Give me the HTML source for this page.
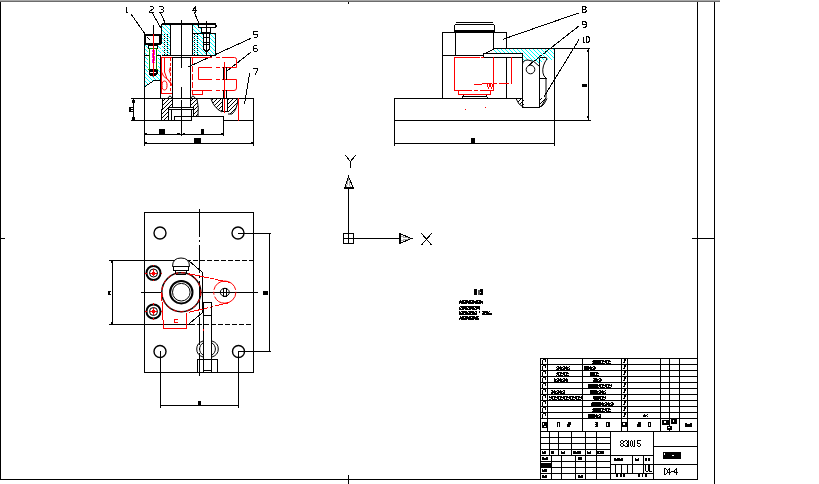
<!DOCTYPE html><html><head><meta charset="utf-8"><style>
html,body{margin:0;padding:0;background:#fff;overflow:hidden;}
svg{display:block;}
</style></head><body>
<svg width="819" height="484" viewBox="0 0 819 484" shape-rendering="crispEdges">
<defs>
<pattern id="hc" patternUnits="userSpaceOnUse" width="4" height="4">
<rect x="0" y="0" width="1" height="1" fill="#00ffff"/><rect x="1" y="1" width="1" height="1" fill="#00ffff"/><rect x="2" y="2" width="1" height="1" fill="#00ffff"/><rect x="3" y="3" width="1" height="1" fill="#00ffff"/></pattern>
<pattern id="hk" patternUnits="userSpaceOnUse" width="4" height="4">
<rect x="3" y="0" width="1" height="1" fill="#000"/><rect x="2" y="1" width="1" height="1" fill="#000"/><rect x="1" y="2" width="1" height="1" fill="#000"/><rect x="0" y="3" width="1" height="1" fill="#000"/></pattern>
<pattern id="tx" patternUnits="userSpaceOnUse" width="6" height="4">
<rect x="0" y="0" width="6" height="4" fill="#000"/><rect x="1" y="1" width="1" height="2" fill="#fff"/><rect x="4" y="0" width="1" height="1" fill="#fff"/><rect x="3" y="2" width="2" height="1" fill="#fff"/><rect x="5" y="3" width="1" height="1" fill="#fff"/></pattern>
<pattern id="tx3" patternUnits="userSpaceOnUse" width="7" height="4">
<rect x="0" y="0" width="7" height="4" fill="#000"/><rect x="2" y="1" width="1" height="1" fill="#fff"/><rect x="5" y="3" width="1" height="1" fill="#fff"/><rect x="6" y="0" width="1" height="1" fill="#fff"/></pattern>
</defs>
<rect x="0" y="0" width="819" height="484" fill="#fff"/>

<rect x="0" y="0" width="720" height="1" fill="#a8a8a8" />
<rect x="0" y="1" width="720" height="1" fill="#6c6c6c" />
<line x1="0.5" y1="2" x2="0.5" y2="480" stroke="#000" stroke-width="1" />
<line x1="0" y1="479.5" x2="698" y2="479.5" stroke="#000" stroke-width="1" />
<line x1="697.5" y1="2" x2="697.5" y2="480" stroke="#000" stroke-width="1" />
<line x1="714.5" y1="2" x2="714.5" y2="484" stroke="#000" stroke-width="1" />
<line x1="0" y1="238.5" x2="5" y2="238.5" stroke="#000" stroke-width="1" />
<line x1="692" y1="238.5" x2="715" y2="238.5" stroke="#000" stroke-width="1" />
<rect x="348" y="2" width="1" height="2" fill="#000" />
<line x1="348.5" y1="475" x2="348.5" y2="484" stroke="#000" stroke-width="1" />
<path d="M1,0 L1,7 L2.5,7" transform="translate(125.0,6.5) scale(1,0.86)" stroke="#000" stroke-width="1" fill="none" vector-effect="non-scaling-stroke" stroke-linejoin="miter"/>
<path d="M0,1 L1,0 L3,0 L4,1 L4,2.5 L0,5.5 L0,7 L4,7" transform="translate(149.5,6.5) scale(1,0.86)" stroke="#000" stroke-width="1" fill="none" vector-effect="non-scaling-stroke" stroke-linejoin="miter"/>
<path d="M0,0.5 L1,0 L3,0 L4,1 L4,2.5 L3,3.5 L1.5,3.5 M3,3.5 L4,4.5 L4,6 L3,7 L1,7 L0,6.5" transform="translate(159.5,6.5) scale(1,0.86)" stroke="#000" stroke-width="1" fill="none" vector-effect="non-scaling-stroke" stroke-linejoin="miter"/>
<path d="M3,7 L3,0 L0,5 L4,5" transform="translate(192.5,6.5) scale(1,0.86)" stroke="#000" stroke-width="1" fill="none" vector-effect="non-scaling-stroke" stroke-linejoin="miter"/>
<path d="M4,0 L0.5,0 L0,3 L3,3 L4,4 L4,6 L3,7 L0,7" transform="translate(253.5,31.5) scale(1,0.86)" stroke="#000" stroke-width="1" fill="none" vector-effect="non-scaling-stroke" stroke-linejoin="miter"/>
<path d="M3.5,0 L1,0 L0,1 L0,6 L1,7 L3,7 L4,6 L4,4.5 L3,3.5 L0,3.5" transform="translate(253.5,45.5) scale(1,0.86)" stroke="#000" stroke-width="1" fill="none" vector-effect="non-scaling-stroke" stroke-linejoin="miter"/>
<path d="M0,1 L0,0 L4,0 L4,1 L2,7" transform="translate(253.5,68.5) scale(1,0.86)" stroke="#000" stroke-width="1" fill="none" vector-effect="non-scaling-stroke" stroke-linejoin="miter"/>
<line x1="131" y1="14" x2="145" y2="34" stroke="#000" stroke-width="1" />
<line x1="152" y1="12.5" x2="162" y2="30" stroke="#000" stroke-width="1" />
<line x1="160.5" y1="12.5" x2="165.5" y2="24" stroke="#000" stroke-width="1" />
<line x1="194" y1="12" x2="198.6" y2="22.5" stroke="#000" stroke-width="1" />
<line x1="250.8" y1="38.4" x2="188" y2="67" stroke="#000" stroke-width="1" />
<line x1="250.8" y1="52.3" x2="226.6" y2="71.2" stroke="#000" stroke-width="1" />
<line x1="249.7" y1="73.3" x2="244.5" y2="103.6" stroke="#000" stroke-width="1" />
<g fill="url(#hc)" stroke="none">
<rect x="162" y="25" width="8" height="30"/>
<path d="M193,25 L198,25 L198,28 L201,28 L201,33 L215,33 L215,55 L193,55 Z"/>
<path d="M145,45 L161,45 L161,80 L154,80 L146,86 L145,86 Z"/>
</g>
<rect x="148" y="45" width="10" height="31" fill="#fff" />
<path d="M203.5,31 L209.5,31 L209.5,49 L206.5,52 L203.5,49 Z" fill="#fff"/>
<line x1="164.5" y1="34" x2="164.5" y2="55" stroke="#000" stroke-width="1" stroke-dasharray="1,1"/>
<line x1="167.5" y1="34" x2="167.5" y2="55" stroke="#000" stroke-width="1" stroke-dasharray="1,1"/>
<line x1="194.5" y1="34" x2="194.5" y2="55" stroke="#000" stroke-width="1" stroke-dasharray="1,1"/>
<line x1="197.5" y1="34" x2="197.5" y2="55" stroke="#000" stroke-width="1" stroke-dasharray="1,1"/>
<line x1="162" y1="24" x2="216" y2="24" stroke="#000" stroke-width="2" />
<path d="M198.5,24.5 L215,24.5 L216,25.5 L216,26.5 L215,27.5 L198.5,27.5 Z" stroke="#000" stroke-width="1" fill="none" />
<rect x="201.5" y="27.5" width="9" height="5" stroke="#000" stroke-width="1" fill="none" />
<path d="M203.5,32 L203.5,49 L206.5,52 L209.5,49 L209.5,32" stroke="#000" stroke-width="1" fill="none" />
<line x1="204" y1="37.5" x2="209" y2="37.5" stroke="#000" stroke-width="1" />
<line x1="204" y1="42.5" x2="209" y2="42.5" stroke="#000" stroke-width="1" />
<line x1="204" y1="44.5" x2="209" y2="44.5" stroke="#000" stroke-width="1" />
<line x1="206.5" y1="21" x2="206.5" y2="55" stroke="#000" stroke-width="1" />
<line x1="170.5" y1="24" x2="170.5" y2="56" stroke="#000" stroke-width="1" />
<line x1="192.5" y1="24" x2="192.5" y2="56" stroke="#000" stroke-width="1" />
<line x1="161.5" y1="24" x2="161.5" y2="44" stroke="#000" stroke-width="1" />
<path d="M193,33.5 L215.5,33.5 L215.5,55.5" stroke="#000" stroke-width="1" fill="none" />
<line x1="162" y1="55.5" x2="216" y2="55.5" stroke="#000" stroke-width="1" />
<line x1="144" y1="55.5" x2="161" y2="55.5" stroke="#000" stroke-width="1" />
<line x1="170" y1="57.5" x2="193" y2="57.5" stroke="#000" stroke-width="1" />
<line x1="181.5" y1="20" x2="181.5" y2="68" stroke="#000" stroke-width="1" />
<line x1="181.5" y1="87" x2="181.5" y2="99" stroke="#000" stroke-width="1" />
<line x1="181.5" y1="100" x2="181.5" y2="136" stroke="#000" stroke-width="1" />
<rect x="145" y="35" width="15" height="9" stroke="#000" stroke-width="2" fill="#fff"/>
<line x1="147" y1="37" x2="150" y2="40" stroke="#000" stroke-width="1" />
<line x1="153.5" y1="25" x2="153.5" y2="34" stroke="#000" stroke-width="1" />
<rect x="148.5" y="45.5" width="9" height="3" stroke="#000" stroke-width="1" fill="none" />
<rect x="149.5" y="48.5" width="7" height="21" stroke="#008000" stroke-width="1" fill="#fff"/>
<rect x="152" y="50" width="3" height="13" fill="#ff00ff" />
<rect x="152" y="52" width="1" height="1" fill="#fff" />
<rect x="154" y="55" width="1" height="1" fill="#fff" />
<rect x="152" y="58" width="1" height="1" fill="#fff" />
<rect x="154" y="61" width="1" height="1" fill="#fff" />
<path d="M149,69 L158,69 L158,73 L156,76 L150,76 L149,73 Z" fill="#000"/>
<rect x="150" y="72" width="6" height="1" fill="#fff" />
<rect x="148" y="69" width="2" height="1" fill="#008000" />
<rect x="156" y="69" width="2" height="1" fill="#008000" />
<line x1="153.5" y1="34" x2="153.5" y2="77" stroke="#ff0000" stroke-width="1" />
<line x1="144.5" y1="34" x2="144.5" y2="146" stroke="#000" stroke-width="1" />
<line x1="160.5" y1="56" x2="160.5" y2="99" stroke="#000" stroke-width="1" />
<path d="M145,86.5 L154,80.5 L161,80.5" stroke="#000" stroke-width="1" fill="none" />
<line x1="161" y1="57.5" x2="172" y2="57.5" stroke="#ff0000" stroke-width="1" />
<path d="M191,57.5 L234.5,57.5 Q236.5,57.5 236.5,59.5 L236.5,67.5 L198.5,67.5 L198.5,79.5 L236.5,79.5 L236.5,88 Q236.5,90.5 234,90.5 L191.5,90.5" stroke="#ff0000" stroke-width="1" fill="none" shape-rendering="geometricPrecision" />
<line x1="212" y1="57.5" x2="216" y2="57.5" stroke="#fff" stroke-width="1" />
<line x1="212" y1="67.5" x2="216" y2="67.5" stroke="#fff" stroke-width="1" />
<line x1="212" y1="79.5" x2="216" y2="79.5" stroke="#fff" stroke-width="1" />
<line x1="212" y1="90.5" x2="216" y2="90.5" stroke="#fff" stroke-width="1" />
<line x1="220" y1="57.5" x2="222" y2="57.5" stroke="#fff" stroke-width="1" />
<line x1="220" y1="67.5" x2="222" y2="67.5" stroke="#fff" stroke-width="1" />
<line x1="220" y1="79.5" x2="222" y2="79.5" stroke="#fff" stroke-width="1" />
<line x1="220" y1="90.5" x2="222" y2="90.5" stroke="#fff" stroke-width="1" />
<line x1="161.5" y1="57" x2="161.5" y2="94" stroke="#ff0000" stroke-width="1" />
<line x1="161" y1="93.5" x2="172" y2="93.5" stroke="#ff0000" stroke-width="1" />
<line x1="192.5" y1="58" x2="192.5" y2="93" stroke="#ff0000" stroke-width="1" stroke-dasharray="6,2"/>
<line x1="170.5" y1="58" x2="170.5" y2="93" stroke="#ff0000" stroke-width="1" stroke-dasharray="3,2"/>
<rect x="192.0" y="90.5" width="10" height="4" stroke="#ff0000" stroke-width="1" fill="none" />
<path d="M164.5,58 L164.5,72 Q166,79 171,84" stroke="#ff0000" stroke-width="1" fill="none" shape-rendering="geometricPrecision" />
<path d="M161.5,72 Q163,77 167,79 Q171,81 172,86" stroke="#ff0000" stroke-width="1" fill="none" shape-rendering="geometricPrecision" />
<ellipse cx="164.5" cy="85.5" rx="2.5" ry="4.5" stroke="#ff0000" stroke-width="1" fill="none" shape-rendering="geometricPrecision"/>
<path d="M170.5,67 Q168,70.5 170.5,74" stroke="#ff0000" stroke-width="1" fill="none" shape-rendering="geometricPrecision" />
<line x1="172.5" y1="57" x2="172.5" y2="108" stroke="#000" stroke-width="1" />
<line x1="190.5" y1="57" x2="190.5" y2="108" stroke="#000" stroke-width="1" />
<line x1="223.5" y1="67" x2="223.5" y2="80" stroke="#000" stroke-width="1" />
<line x1="226.5" y1="67" x2="226.5" y2="80" stroke="#000" stroke-width="1" />
<line x1="223.5" y1="90" x2="223.5" y2="98" stroke="#000" stroke-width="1" />
<line x1="226.5" y1="90" x2="226.5" y2="98" stroke="#000" stroke-width="1" />
<line x1="222.5" y1="98" x2="222.5" y2="112" stroke="#000" stroke-width="1" />
<line x1="227.5" y1="98" x2="227.5" y2="112" stroke="#000" stroke-width="1" />
<line x1="222" y1="111.5" x2="228" y2="111.5" stroke="#000" stroke-width="1" />
<line x1="224.5" y1="62" x2="224.5" y2="113" stroke="#ff0000" stroke-width="1" />
<line x1="131" y1="98.5" x2="254" y2="98.5" stroke="#000" stroke-width="1" />
<line x1="131" y1="120.5" x2="169" y2="120.5" stroke="#000" stroke-width="1" />
<line x1="168" y1="120.5" x2="192" y2="120.5" stroke="#000" stroke-width="1" />
<line x1="175" y1="116.5" x2="224" y2="116.5" stroke="#000" stroke-width="1" />
<line x1="224" y1="120.5" x2="254" y2="120.5" stroke="#000" stroke-width="1" />
<line x1="253.5" y1="98" x2="253.5" y2="146" stroke="#000" stroke-width="1" />
<line x1="223.5" y1="116" x2="223.5" y2="136" stroke="#000" stroke-width="1" />
<path d="M163,99 L172,99 L172,107 L168.5,107 L168.5,120 L161,120 Z" fill="url(#hk)"/>
<path d="M191,99 L197,99 Q199,107 198,116 L193,116 L193,107 L191,107 Z" fill="url(#hk)"/>
<path d="M211,99 L238,99 Q237,110 232,114 L228,114 L228,99 L222,99 L222,112 Q214,108 211,99 Z" fill="url(#hk)"/>
<path d="M163,99 L161,120" stroke="#000" stroke-width="1" fill="none" />
<path d="M197,99 Q199,107 198,116" stroke="#000" stroke-width="1" fill="none" shape-rendering="geometricPrecision" />
<path d="M211,99 Q214,108 222,112" stroke="#000" stroke-width="1" fill="none" shape-rendering="geometricPrecision" />
<path d="M238,99 Q237,110 232,114 L228,114" stroke="#000" stroke-width="1" fill="none" shape-rendering="geometricPrecision" />
<path d="M168.5,120 L168.5,107.5 L193.5,107.5 L193.5,116" stroke="#000" stroke-width="1" fill="none" />
<line x1="169" y1="109.5" x2="193" y2="109.5" stroke="#000" stroke-width="1" />
<line x1="171.5" y1="109" x2="171.5" y2="120" stroke="#000" stroke-width="1" />
<line x1="191.5" y1="109" x2="191.5" y2="120" stroke="#000" stroke-width="1" />
<path d="M174.5,120 L174.5,117 L176,116.5 L191,116.5" stroke="#000" stroke-width="1" fill="none" />
<line x1="238.5" y1="98" x2="238.5" y2="121" stroke="#ff0000" stroke-width="1" />
<path d="M168,98 Q170,94 172,98" stroke="#000" stroke-width="1" fill="none" shape-rendering="geometricPrecision" />
<path d="M191,98 Q193,94 195,98" stroke="#000" stroke-width="1" fill="none" shape-rendering="geometricPrecision" />
<line x1="133.5" y1="98" x2="133.5" y2="121" stroke="#000" stroke-width="1" />
<rect x="132" y="100" width="3" height="3" fill="#000" />
<rect x="132" y="117" width="3" height="3" fill="#000" />
<rect x="129" y="107" width="2" height="5" fill="#000" />
<rect x="129" y="107" width="4" height="1" fill="#000" />
<rect x="129" y="111" width="4" height="1" fill="#000" />
<rect x="131" y="109" width="2" height="1" fill="#000" />
<line x1="144" y1="134.5" x2="224" y2="134.5" stroke="#000" stroke-width="1" />
<rect x="159" y="129" width="6" height="5" fill="#000" />
<rect x="201" y="129" width="3" height="5" fill="#000" />
<rect x="145" y="133" width="2" height="1" fill="#000" />
<rect x="177" y="133" width="3" height="1" fill="#000" />
<rect x="183" y="133" width="2" height="1" fill="#000" />
<rect x="221" y="133" width="2" height="1" fill="#000" />
<line x1="144" y1="143.5" x2="254" y2="143.5" stroke="#000" stroke-width="1" />
<rect x="194" y="138" width="7" height="5" fill="#000" />
<rect x="145" y="142" width="2" height="1" fill="#000" />
<rect x="251" y="142" width="2" height="1" fill="#000" />
<path d="M1,0 L3,0 L4,1 L4,2 L3,3 L1,3 L0,2 L0,1 Z M1,3 L0,4 L0,6 L1,7 L3,7 L4,6 L4,4 L3,3" transform="translate(582.0,6.5) scale(1,0.86)" stroke="#000" stroke-width="1" fill="none" vector-effect="non-scaling-stroke" stroke-linejoin="miter"/>
<path d="M4,3.5 L1,3.5 L0,2.5 L0,1 L1,0 L3,0 L4,1 L4,6 L3,7 L0.5,7" transform="translate(582.0,21.5) scale(1,0.86)" stroke="#000" stroke-width="1" fill="none" vector-effect="non-scaling-stroke" stroke-linejoin="miter"/>
<path d="M1,0 L1,7 L2.5,7" transform="translate(582.5,36.5) scale(1,0.86)" stroke="#000" stroke-width="1" fill="none" vector-effect="non-scaling-stroke" stroke-linejoin="miter"/>
<path d="M1,0 L2,0 L3,1 L3,6 L2,7 L1,7 L0,6 L0,1 Z" transform="translate(586.0,36.5) scale(1,0.86)" stroke="#000" stroke-width="1" fill="none" vector-effect="non-scaling-stroke" stroke-linejoin="miter"/>
<line x1="578.9" y1="12.9" x2="502.6" y2="39.4" stroke="#000" stroke-width="1" />
<line x1="578.9" y1="26" x2="527.8" y2="66" stroke="#000" stroke-width="1" />
<line x1="578.9" y1="39.7" x2="543.7" y2="97.2" stroke="#000" stroke-width="1" />
<line x1="394" y1="98.5" x2="523" y2="98.5" stroke="#000" stroke-width="1" />
<line x1="394.5" y1="98" x2="394.5" y2="121" stroke="#000" stroke-width="1" />
<line x1="394" y1="120.5" x2="591" y2="120.5" stroke="#000" stroke-width="1" />
<line x1="394.5" y1="120" x2="394.5" y2="146" stroke="#000" stroke-width="1" />
<line x1="554.5" y1="120" x2="554.5" y2="146" stroke="#000" stroke-width="1" />
<line x1="394" y1="143.5" x2="555" y2="143.5" stroke="#000" stroke-width="1" />
<rect x="471" y="138" width="4" height="5" fill="#000" />
<line x1="555" y1="48.5" x2="590" y2="48.5" stroke="#000" stroke-width="1" />
<line x1="588.5" y1="48" x2="588.5" y2="120" stroke="#000" stroke-width="1" />
<rect x="587" y="50" width="2" height="2" fill="#000" />
<rect x="587" y="116" width="2" height="2" fill="#000" />
<rect x="582" y="84" width="5" height="3" fill="#000" />
<path d="M455.5,22.5 L493,22.5" stroke="#000" stroke-width="1" fill="none" />
<path d="M454.5,31 L454.5,25.5 L455.5,24.5 L493.5,24.5 L494.5,25.5 L494.5,31" stroke="#000" stroke-width="1" fill="none" />
<line x1="454" y1="31" x2="495" y2="31" stroke="#000" stroke-width="2" />
<path d="M442.5,98 L442.5,32.5 L506.5,32.5 L506.5,48.5" stroke="#000" stroke-width="1" fill="none" />
<line x1="455.5" y1="32" x2="455.5" y2="56" stroke="#000" stroke-width="1" />
<line x1="493.5" y1="32" x2="493.5" y2="49" stroke="#000" stroke-width="1" />
<line x1="442" y1="55.5" x2="484" y2="55.5" stroke="#000" stroke-width="1" />
<line x1="506.5" y1="57" x2="506.5" y2="98" stroke="#000" stroke-width="1" />
<path d="M494,49 L554,49 L554,60 Q546,58 541,62 L539,66 Q534,60 528,60 Q523,60 522.5,64 L522.5,53 L494,53 Z" fill="url(#hc)"/>
<path d="M483.5,57.5 L522.5,57.5 L522.5,107.5 L539.5,107.5 L539.5,57.5" stroke="#000" stroke-width="1" fill="none" />
<path d="M483.5,57.5 L483.5,54 L490,51 L494.5,48.5 L554.5,48.5" stroke="#000" stroke-width="1" fill="none" />
<line x1="484" y1="53.5" x2="523" y2="53.5" stroke="#000" stroke-width="1" />
<line x1="522.5" y1="53" x2="522.5" y2="58" stroke="#000" stroke-width="1" />
<line x1="554.5" y1="48" x2="554.5" y2="120" stroke="#000" stroke-width="1" />
<circle cx="530.5" cy="69.5" r="4.3" stroke="#000" stroke-width="1" fill="none" shape-rendering="geometricPrecision" />
<path d="M522.5,64 Q523,60 528,60 Q534,60 539,66" stroke="#000" stroke-width="1" fill="none" shape-rendering="geometricPrecision" />
<path d="M539.5,57.5 L546,57.5 Q548,58 545,62 Q541,70 544,76 L546,78 L546,98 L541,107" stroke="#000" stroke-width="1" fill="none" shape-rendering="geometricPrecision" />
<line x1="540" y1="78.5" x2="547" y2="78.5" stroke="#000" stroke-width="1" />
<path d="M516,98 Q518,105 524,108 L524,98 Z" fill="url(#hk)"/>
<path d="M539,98 L539,108 Q545,105 547,98 Z" fill="url(#hk)"/>
<path d="M516,98.5 Q518,105 524,107.5" stroke="#000" stroke-width="1" fill="none" shape-rendering="geometricPrecision" />
<path d="M547,98.5 Q545,105 539,107.5" stroke="#000" stroke-width="1" fill="none" shape-rendering="geometricPrecision" />
<path d="M454.5,90.5 L454.5,57.5 L479.5,57.5" stroke="#ff0000" stroke-width="1" fill="none" />
<line x1="481" y1="57.5" x2="484" y2="57.5" stroke="#ff0000" stroke-width="1" />
<line x1="493.5" y1="57" x2="493.5" y2="91" stroke="#ff0000" stroke-width="1" />
<line x1="454" y1="90.5" x2="494" y2="90.5" stroke="#ff0000" stroke-width="1" stroke-dasharray="18,2,4,2"/>
<path d="M458.5,90.5 L458.5,94.5 L490.5,94.5 L490.5,90.5" stroke="#ff0000" stroke-width="1" fill="none" />
<line x1="474" y1="84.5" x2="482" y2="84.5" stroke="#ff0000" stroke-width="1" />
<line x1="482" y1="83.5" x2="512" y2="83.5" stroke="#ff0000" stroke-width="1" stroke-dasharray="10,2,3,2"/>
<line x1="511.5" y1="57" x2="511.5" y2="84" stroke="#ff0000" stroke-width="1" />
<path d="M487.5,84 L488.5,89 L490,84 M490.5,84 L491.5,89 L493,84" stroke="#ff0000" stroke-width="1" fill="none" />
<path d="M462,98 L463.5,95.5 M486,95.5 L487.5,98" stroke="#000" stroke-width="1" fill="none" />
<line x1="463" y1="96.5" x2="487" y2="96.5" stroke="#000" stroke-width="1" />
<rect x="465" y="109" width="1" height="1" fill="#ff0000" />
<rect x="485" y="107" width="1" height="1" fill="#ff0000" />
<rect x="343.5" y="233.5" width="10" height="10" stroke="#000" fill="none"/>
<line x1="348.5" y1="234" x2="348.5" y2="244" stroke="#000" stroke-width="1" />
<line x1="344" y1="238.5" x2="354" y2="238.5" stroke="#000" stroke-width="1" />
<line x1="348.5" y1="188" x2="348.5" y2="234" stroke="#000" stroke-width="1" />
<line x1="348.5" y1="178" x2="346.5" y2="188" stroke="#aaa" stroke-width="1" />
<line x1="348.5" y1="178" x2="350.5" y2="188" stroke="#aaa" stroke-width="1" />
<path d="M348.5,176.5 L344.5,188.5 L353.5,188.5 Z" stroke="#000" stroke-width="1" fill="none" />
<line x1="344" y1="187.5" x2="354" y2="187.5" stroke="#000" stroke-width="1" />
<line x1="354" y1="238.5" x2="400" y2="238.5" stroke="#000" stroke-width="1" />
<line x1="411" y1="238.5" x2="401" y2="236.5" stroke="#aaa" stroke-width="1" />
<line x1="411" y1="238.5" x2="401" y2="240.5" stroke="#aaa" stroke-width="1" />
<path d="M411.5,238.5 L399.5,233.5 L399.5,243.5 Z" stroke="#000" stroke-width="1" fill="none" />
<line x1="400.5" y1="234" x2="400.5" y2="244" stroke="#000" stroke-width="1" />
<path d="M345.5,155.5 L350.5,161.5 L355.5,155.5 M350.5,161.5 L350.5,167.5" stroke="#000" stroke-width="1" fill="none" />
<path d="M421.5,233.5 L431.5,245 M431.5,233.5 L421.5,245" stroke="#000" stroke-width="1" fill="none" />
<rect x="144.5" y="212.5" width="109" height="160" stroke="#000" fill="none"/>
<line x1="199.5" y1="209" x2="199.5" y2="376" stroke="#000" stroke-dasharray="28,3,2,3"/>
<line x1="141" y1="292.5" x2="162" y2="292.5" stroke="#000" stroke-width="1" />
<line x1="201" y1="292.5" x2="258" y2="292.5" stroke="#000" stroke-width="1" />
<line x1="144" y1="260.5" x2="172" y2="260.5" stroke="#000" stroke-width="1" />
<line x1="172" y1="260.5" x2="254" y2="260.5" stroke="#000" stroke-width="1" stroke-dasharray="5,2"/>
<line x1="144" y1="324.5" x2="190" y2="324.5" stroke="#000" stroke-width="1" />
<line x1="190" y1="324.5" x2="254" y2="324.5" stroke="#000" stroke-width="1" stroke-dasharray="5,2"/>
<circle cx="160" cy="233" r="6" stroke="#000" stroke-width="1.4" fill="none" shape-rendering="geometricPrecision" />
<circle cx="238" cy="233" r="6" stroke="#000" stroke-width="1.4" fill="none" shape-rendering="geometricPrecision" />
<circle cx="160" cy="351.5" r="6" stroke="#000" stroke-width="1.4" fill="none" shape-rendering="geometricPrecision" />
<circle cx="238.5" cy="351.5" r="6" stroke="#000" stroke-width="1.4" fill="none" shape-rendering="geometricPrecision" />
<line x1="238" y1="233.5" x2="271" y2="233.5" stroke="#000" stroke-width="1" />
<line x1="238" y1="351.5" x2="271" y2="351.5" stroke="#000" stroke-width="1" />
<line x1="269.5" y1="233" x2="269.5" y2="352" stroke="#000" stroke-width="1" />
<rect x="263" y="291" width="5" height="4" fill="#000" />
<line x1="160.5" y1="351" x2="160.5" y2="408" stroke="#000" stroke-width="1" />
<line x1="238.5" y1="351" x2="238.5" y2="408" stroke="#000" stroke-width="1" />
<line x1="160" y1="405.5" x2="239" y2="405.5" stroke="#000" stroke-width="1" />
<rect x="198" y="401" width="3" height="4" fill="#000" />
<line x1="109" y1="260.5" x2="145" y2="260.5" stroke="#000" stroke-width="1" />
<line x1="109" y1="324.5" x2="145" y2="324.5" stroke="#000" stroke-width="1" />
<line x1="112.5" y1="260" x2="112.5" y2="325" stroke="#000" stroke-width="1" />
<rect x="108" y="291" width="2" height="4" fill="#000" />
<rect x="108" y="291" width="3" height="1" fill="#000" />
<rect x="110" y="294" width="1" height="1" fill="#000" />
<rect x="111" y="261" width="2" height="2" fill="#000" />
<rect x="111" y="322" width="2" height="2" fill="#000" />
<circle cx="153.5" cy="273" r="7" stroke="#000" stroke-width="2" fill="none" shape-rendering="geometricPrecision" />
<circle cx="153.5" cy="273" r="4" stroke="#000" stroke-width="1" fill="none" shape-rendering="geometricPrecision" />
<line x1="150" y1="273.0" x2="157" y2="273.0" stroke="#ff0000" stroke-width="1" />
<line x1="153.5" y1="269" x2="153.5" y2="276" stroke="#ff0000" stroke-width="1" />
<rect x="152" y="271.5" width="3" height="3" fill="#ff0000" />
<rect x="153" y="264.5" width="1" height="1.5" fill="#ff0000" />
<rect x="153" y="279.5" width="1" height="1.5" fill="#ff0000" />
<rect x="145" y="272.5" width="1.5" height="1" fill="#ff0000" />
<rect x="160.5" y="272.5" width="1.5" height="1" fill="#ff0000" />
<circle cx="153.5" cy="311.5" r="7" stroke="#000" stroke-width="2" fill="none" shape-rendering="geometricPrecision" />
<circle cx="153.5" cy="311.5" r="4" stroke="#000" stroke-width="1" fill="none" shape-rendering="geometricPrecision" />
<line x1="150" y1="311.5" x2="157" y2="311.5" stroke="#ff0000" stroke-width="1" />
<line x1="153.5" y1="307.5" x2="153.5" y2="314.5" stroke="#ff0000" stroke-width="1" />
<rect x="152" y="310.0" width="3" height="3" fill="#ff0000" />
<rect x="153" y="303.0" width="1" height="1.5" fill="#ff0000" />
<rect x="153" y="318.0" width="1" height="1.5" fill="#ff0000" />
<rect x="145" y="311.0" width="1.5" height="1" fill="#ff0000" />
<rect x="160.5" y="311.0" width="1.5" height="1" fill="#ff0000" />
<circle cx="181.3" cy="292.2" r="19.5" stroke="#000" stroke-width="1.5" fill="none" shape-rendering="geometricPrecision" />
<circle cx="181.3" cy="292.2" r="19.5" stroke="#ff0000" stroke-width="1" fill="none" shape-rendering="geometricPrecision" stroke-dasharray="4,3"/>
<circle cx="181.3" cy="292.2" r="11.2" stroke="#000" stroke-width="2" fill="none" shape-rendering="geometricPrecision" />
<circle cx="181.3" cy="292.2" r="8.8" stroke="#000" stroke-width="1" fill="none" shape-rendering="geometricPrecision" />
<path d="M172.5,266.5 Q172.5,258 181,258 Q189.5,258 189.5,266.5 Z" stroke="#000" stroke-width="1" fill="#fff" shape-rendering="geometricPrecision" />
<path d="M173,267 L174,270.5 L188,270.5 L189,267" stroke="#000" stroke-width="1" fill="none" />
<path d="M175.5,270.5 L176,274 L186,274 L186.5,270.5" stroke="#000" stroke-width="1" fill="none" />
<path d="M188.5,260.5 L202.5,272.5 L202.5,312.5 L189.5,323.5" stroke="#000" stroke-width="1" fill="none" />
<path d="M161.5,292 L163.5,328.5 L186.5,328.5 L186.5,312.5" stroke="#ff0000" stroke-width="1" fill="none" />
<path d="M174,319.5 L177.5,319.5 M174,319.5 L174,322.5 L177.5,322.5" stroke="#ff0000" stroke-width="1" fill="none" />
<line x1="189" y1="273.7" x2="230.1" y2="282.5" stroke="#ff0000" stroke-width="1" stroke-dasharray="20,2,3,2"/>
<line x1="189" y1="312.3" x2="229.2" y2="302.6" stroke="#ff0000" stroke-width="1" stroke-dasharray="20,2,3,2"/>
<circle cx="224.8" cy="292.1" r="11.1" stroke="#ff0000" stroke-width="1" fill="none" shape-rendering="geometricPrecision" stroke-dasharray="30,2,3,2"/>
<rect x="223.5" y="288.5" width="3" height="8" stroke="#000" fill="none"/>
<ellipse cx="224.8" cy="292.3" rx="4.5" ry="4" stroke="#000" fill="none" shape-rendering="geometricPrecision"/>
<path d="M203.5,372 L203.5,302.5 L211.5,302.5 L211.5,372" stroke="#000" stroke-width="1" fill="none" />
<line x1="203" y1="315.5" x2="212" y2="315.5" stroke="#000" stroke-width="1" />
<rect x="203" y="329" width="1" height="2" fill="#ff0000" />
<path shape-rendering="geometricPrecision" d="M203,341 A9.5,8.5 0 0 0 203,357 M212,341 A9.5,8.5 0 0 1 212,357" stroke="#000" fill="none"/>
<path shape-rendering="geometricPrecision" d="M203,343 A7,7 0 0 0 203,355 M212,343 A7,7 0 0 1 212,355" stroke="#000" fill="none"/>
<rect x="197.5" y="359.5" width="20" height="13" stroke="#000" fill="none"/>
<line x1="203" y1="370.5" x2="212" y2="370.5" stroke="#000" stroke-width="1" />
<rect x="474" y="289" width="3" height="6" fill="#000"/>
<rect x="477.5" y="290" width="2" height="5" fill="#555" />
<rect x="480" y="289" width="3" height="6" fill="#000"/>
<rect x="480" y="292" width="1" height="1" fill="#fff" />
<g fill="url(#tx3)">
<rect x="459" y="300" width="24" height="4"/><rect x="459" y="306" width="21" height="4"/><rect x="459" y="311" width="18" height="4"/><rect x="482" y="311" width="10" height="4"/><rect x="459" y="316" width="20" height="4"/>
</g>
<rect x="479" y="311" width="1" height="2" fill="#000" />
<rect x="474" y="300" width="2" height="1" fill="#fff" />
<rect x="459" y="300" width="1" height="1" fill="#fff" />
<rect x="481" y="300" width="2" height="1" fill="#fff" />
<rect x="459" y="306" width="1" height="1" fill="#fff" />
<rect x="477" y="309" width="1" height="1" fill="#fff" />
<rect x="490" y="311" width="2" height="2" fill="#fff" />
<rect x="459" y="316" width="1" height="2" fill="#fff" />
<line x1="540" y1="364.5" x2="698" y2="364.5" stroke="#000" stroke-width="1" />
<line x1="540" y1="370.5" x2="698" y2="370.5" stroke="#000" stroke-width="1" />
<line x1="540" y1="376.5" x2="698" y2="376.5" stroke="#000" stroke-width="1" />
<line x1="540" y1="382.5" x2="698" y2="382.5" stroke="#000" stroke-width="1" />
<line x1="540" y1="388.5" x2="698" y2="388.5" stroke="#000" stroke-width="1" />
<line x1="540" y1="394.5" x2="698" y2="394.5" stroke="#000" stroke-width="1" />
<line x1="540" y1="400.5" x2="698" y2="400.5" stroke="#000" stroke-width="1" />
<line x1="540" y1="406.5" x2="698" y2="406.5" stroke="#000" stroke-width="1" />
<line x1="540" y1="412.5" x2="698" y2="412.5" stroke="#000" stroke-width="1" />
<line x1="540" y1="358.5" x2="698" y2="358.5" stroke="#000" stroke-width="1" />
<line x1="540" y1="418.5" x2="698" y2="418.5" stroke="#000" stroke-width="1" />
<line x1="540.5" y1="358" x2="540.5" y2="431" stroke="#000" stroke-width="1" />
<line x1="547.5" y1="358" x2="547.5" y2="431" stroke="#000" stroke-width="1" />
<line x1="582.5" y1="358" x2="582.5" y2="431" stroke="#000" stroke-width="1" />
<line x1="621.5" y1="358" x2="621.5" y2="431" stroke="#000" stroke-width="1" />
<line x1="627.5" y1="358" x2="627.5" y2="431" stroke="#000" stroke-width="1" />
<line x1="660.5" y1="358" x2="660.5" y2="431" stroke="#000" stroke-width="1" />
<line x1="669.5" y1="358" x2="669.5" y2="431" stroke="#000" stroke-width="1" />
<line x1="679.5" y1="358" x2="679.5" y2="431" stroke="#000" stroke-width="1" />
<line x1="540" y1="431.5" x2="698" y2="431.5" stroke="#000" stroke-width="1" />
<path d="M542.5,359.5 L542.5,363.5 M543,359.5 L545.5,359.5 L545.5,361.5" stroke="#000" fill="none"/>
<path d="M625.5,359.5 L623.5,363.5 M624,359.5 L625.5,359.5" stroke="#000" fill="none"/>
<rect x="592" y="360" width="19" height="3.5" fill="url(#tx)"/>
<rect x="593" y="359.5" width="7" height="4" fill="#000" />
<path d="M542.5,365.5 L542.5,369.5 M543,365.5 L545.5,365.5 L545.5,367.5" stroke="#000" fill="none"/>
<path d="M625.5,365.5 L623.5,369.5 M624,365.5 L625.5,365.5" stroke="#000" fill="none"/>
<rect x="556" y="366" width="14" height="3.5" fill="url(#tx)"/>
<rect x="584" y="366" width="12" height="3.5" fill="url(#tx)"/>
<rect x="585" y="365.5" width="4" height="4" fill="#000" />
<path d="M542.5,371.5 L542.5,375.5 M543,371.5 L545.5,371.5 L545.5,373.5" stroke="#000" fill="none"/>
<path d="M625.5,371.5 L623.5,375.5 M624,371.5 L625.5,371.5" stroke="#000" fill="none"/>
<rect x="556" y="372" width="13" height="3.5" fill="url(#tx)"/>
<rect x="590" y="372" width="9" height="3.5" fill="url(#tx)"/>
<rect x="591" y="371.5" width="3" height="4" fill="#000" />
<path d="M542.5,377.5 L542.5,381.5 M543,377.5 L545.5,377.5 L545.5,379.5" stroke="#000" fill="none"/>
<path d="M625.5,377.5 L623.5,381.5 M624,377.5 L625.5,377.5" stroke="#000" fill="none"/>
<rect x="554" y="378" width="14" height="3.5" fill="url(#tx)"/>
<rect x="593" y="378" width="9" height="3.5" fill="url(#tx)"/>
<rect x="594" y="377.5" width="3" height="4" fill="#000" />
<path d="M542.5,383.5 L542.5,387.5 M543,383.5 L545.5,383.5 L545.5,385.5" stroke="#000" fill="none"/>
<path d="M625.5,383.5 L623.5,387.5 M624,383.5 L625.5,383.5" stroke="#000" fill="none"/>
<rect x="588" y="384" width="24" height="3.5" fill="url(#tx)"/>
<rect x="589" y="383.5" width="9" height="4" fill="#000" />
<path d="M542.5,389.5 L542.5,393.5 M543,389.5 L545.5,389.5 L545.5,391.5" stroke="#000" fill="none"/>
<path d="M625.5,389.5 L623.5,393.5 M624,389.5 L625.5,389.5" stroke="#000" fill="none"/>
<rect x="551" y="390" width="14" height="3.5" fill="url(#tx)"/>
<rect x="590" y="390" width="16" height="3.5" fill="url(#tx)"/>
<rect x="591" y="389.5" width="6" height="4" fill="#000" />
<path d="M542.5,395.5 L542.5,399.5 M543,395.5 L545.5,395.5 L545.5,397.5" stroke="#000" fill="none"/>
<path d="M625.5,395.5 L623.5,399.5 M624,395.5 L625.5,395.5" stroke="#000" fill="none"/>
<rect x="548.5" y="396" width="33" height="3.5" fill="url(#tx)"/>
<rect x="593" y="396" width="13" height="3.5" fill="url(#tx)"/>
<rect x="594" y="395.5" width="5" height="4" fill="#000" />
<path d="M542.5,401.5 L542.5,405.5 M543,401.5 L545.5,401.5 L545.5,403.5" stroke="#000" fill="none"/>
<path d="M625.5,401.5 L623.5,405.5 M624,401.5 L625.5,401.5" stroke="#000" fill="none"/>
<rect x="591" y="402" width="23" height="3.5" fill="url(#tx)"/>
<rect x="592" y="401.5" width="9" height="4" fill="#000" />
<path d="M542.5,407.5 L542.5,411.5 M543,407.5 L545.5,407.5 L545.5,409.5" stroke="#000" fill="none"/>
<path d="M625.5,407.5 L623.5,411.5 M624,407.5 L625.5,407.5" stroke="#000" fill="none"/>
<rect x="592" y="408" width="19" height="3.5" fill="url(#tx)"/>
<rect x="593" y="407.5" width="7" height="4" fill="#000" />
<path d="M542.5,413.5 L542.5,417.5 M543,413.5 L545.5,413.5 L545.5,415.5" stroke="#000" fill="none"/>
<path d="M625.5,413.5 L623.5,417.5 M624,413.5 L625.5,413.5" stroke="#000" fill="none"/>
<rect x="588" y="414" width="13" height="3.5" fill="url(#tx)"/>
<rect x="589" y="413.5" width="5" height="4" fill="#000" />
<rect x="643" y="414" width="5" height="3" fill="url(#tx)"/>
<rect x="541.5" y="422" width="5" height="6" fill="#000"/>
<rect x="542.5" y="423" width="1" height="2" fill="#fff" />
<rect x="544" y="426" width="2" height="1" fill="#fff" />
<rect x="557" y="422" width="3" height="5" fill="#000"/>
<rect x="558" y="423" width="1" height="4" fill="#fff" />
<rect x="567" y="422" width="4" height="5" fill="#000"/>
<rect x="567" y="422" width="1" height="2" fill="#fff" />
<rect x="570" y="425" width="1" height="2" fill="#fff" />
<rect x="595" y="422" width="3" height="5" fill="#000"/>
<rect x="595" y="423" width="1" height="1" fill="#fff" />
<rect x="595" y="425" width="1" height="1" fill="#fff" />
<rect x="606" y="422" width="4" height="5" fill="#000"/>
<rect x="607" y="423" width="1" height="3" fill="#fff" />
<rect x="621" y="421.5" width="6" height="5" fill="#000"/>
<rect x="623" y="423" width="2" height="2" fill="#fff" />
<rect x="637" y="422" width="3.5" height="5" fill="#000"/>
<rect x="637" y="422" width="1" height="2" fill="#fff" />
<rect x="647.5" y="422" width="3.5" height="5" fill="#000"/>
<rect x="648.5" y="423" width="1" height="3" fill="#fff" />
<rect x="662" y="419.5" width="7" height="5" fill="#000"/>
<rect x="664" y="421" width="2" height="2" fill="#fff" />
<rect x="667" y="425.5" width="5" height="4.5" fill="#000"/>
<rect x="668" y="427" width="2" height="1" fill="#fff" />
<rect x="671" y="419" width="6" height="4.5" fill="#000"/>
<rect x="673" y="420" width="1" height="2" fill="#fff" />
<rect x="685" y="422.5" width="7" height="4" fill="#000"/>
<rect x="687" y="423" width="3" height="1" fill="#fff" />
<line x1="540" y1="437.5" x2="611" y2="437.5" stroke="#000" stroke-width="1" />
<line x1="540" y1="443.5" x2="611" y2="443.5" stroke="#000" stroke-width="1" />
<line x1="540" y1="449.5" x2="611" y2="449.5" stroke="#000" stroke-width="1" />
<line x1="540" y1="455.5" x2="611" y2="455.5" stroke="#000" stroke-width="1" />
<line x1="540" y1="461.5" x2="611" y2="461.5" stroke="#000" stroke-width="1" />
<line x1="540" y1="467.5" x2="611" y2="467.5" stroke="#000" stroke-width="1" />
<line x1="540" y1="473.5" x2="611" y2="473.5" stroke="#000" stroke-width="1" />
<line x1="540" y1="479.5" x2="698" y2="479.5" stroke="#000" stroke-width="1" />
<line x1="549.5" y1="431" x2="549.5" y2="455" stroke="#000" stroke-width="1" />
<line x1="558.5" y1="431" x2="558.5" y2="455" stroke="#000" stroke-width="1" />
<line x1="571.5" y1="431" x2="571.5" y2="455" stroke="#000" stroke-width="1" />
<line x1="585.5" y1="431" x2="585.5" y2="455" stroke="#000" stroke-width="1" />
<line x1="551.5" y1="455" x2="551.5" y2="479" stroke="#000" stroke-width="1" />
<line x1="561.5" y1="455" x2="561.5" y2="479" stroke="#000" stroke-width="1" />
<line x1="575.5" y1="455" x2="575.5" y2="479" stroke="#000" stroke-width="1" />
<line x1="585.5" y1="455" x2="585.5" y2="479" stroke="#000" stroke-width="1" />
<line x1="540.5" y1="431" x2="540.5" y2="479" stroke="#000" stroke-width="1" />
<line x1="596.5" y1="431" x2="596.5" y2="479" stroke="#000" stroke-width="1" />
<line x1="610.5" y1="431" x2="610.5" y2="479" stroke="#000" stroke-width="1" />
<rect x="541.5" y="450.5" width="4" height="3" fill="#000"/>
<rect x="543" y="451" width="1" height="1" fill="#fff" />
<rect x="551" y="450.5" width="3" height="3" fill="#000"/>
<rect x="561" y="450.5" width="4" height="3" fill="#000"/>
<rect x="562" y="451" width="2" height="1" fill="#fff" />
<rect x="573" y="450.5" width="8" height="3" fill="#000"/>
<rect x="576" y="451" width="1" height="1" fill="#fff" />
<rect x="587" y="450.5" width="4" height="3" fill="#000"/>
<rect x="588" y="451" width="2" height="1" fill="#fff" />
<rect x="597" y="450.5" width="7" height="3" fill="#000"/>
<rect x="599" y="452" width="1" height="1" fill="#fff" />
<rect x="542" y="456.5" width="6" height="3" fill="#000"/>
<rect x="544" y="457" width="2" height="1" fill="#fff" />
<rect x="578" y="456.5" width="4" height="3" fill="#000"/>
<rect x="541" y="462.5" width="10" height="4.5" fill="#000" />
<rect x="542" y="468.5" width="5" height="3" fill="#000"/>
<rect x="543" y="469" width="1" height="1" fill="#fff" />
<rect x="542" y="474.5" width="5" height="3" fill="#000"/>
<rect x="544" y="475" width="1" height="1" fill="#fff" />
<rect x="578" y="474.5" width="5" height="3" fill="#000"/>
<rect x="580" y="475" width="1" height="1" fill="#fff" />
<line x1="653.5" y1="431" x2="653.5" y2="479" stroke="#000" stroke-width="1" />
<line x1="610" y1="455.5" x2="654" y2="455.5" stroke="#000" stroke-width="1" />
<line x1="610" y1="464.5" x2="654" y2="464.5" stroke="#000" stroke-width="1" />
<line x1="610" y1="473.5" x2="654" y2="473.5" stroke="#000" stroke-width="1" />
<line x1="632.5" y1="455" x2="632.5" y2="464" stroke="#000" stroke-width="1" />
<line x1="643.5" y1="455" x2="643.5" y2="464" stroke="#000" stroke-width="1" />
<line x1="615.5" y1="464" x2="615.5" y2="473" stroke="#000" stroke-width="1" />
<line x1="621.5" y1="464" x2="621.5" y2="473" stroke="#000" stroke-width="1" />
<line x1="627.5" y1="464" x2="627.5" y2="473" stroke="#000" stroke-width="1" />
<line x1="632.5" y1="464" x2="632.5" y2="473" stroke="#000" stroke-width="1" />
<line x1="643.5" y1="464" x2="643.5" y2="473" stroke="#000" stroke-width="1" />
<rect x="621" y="440" width="2" height="1" fill="#000"/>
<rect x="620" y="441" width="1" height="1" fill="#000"/>
<rect x="623" y="441" width="1" height="1" fill="#000"/>
<rect x="620" y="442" width="1" height="1" fill="#000"/>
<rect x="623" y="442" width="1" height="1" fill="#000"/>
<rect x="621" y="443" width="2" height="1" fill="#000"/>
<rect x="620" y="444" width="1" height="1" fill="#000"/>
<rect x="623" y="444" width="1" height="1" fill="#000"/>
<rect x="620" y="445" width="1" height="1" fill="#000"/>
<rect x="623" y="445" width="1" height="1" fill="#000"/>
<rect x="621" y="446" width="2" height="1" fill="#000"/>
<rect x="625" y="440" width="2" height="1" fill="#000"/>
<rect x="624" y="441" width="1" height="1" fill="#000"/>
<rect x="627" y="441" width="1" height="1" fill="#000"/>
<rect x="627" y="442" width="1" height="1" fill="#000"/>
<rect x="626" y="443" width="1" height="1" fill="#000"/>
<rect x="627" y="444" width="1" height="1" fill="#000"/>
<rect x="624" y="445" width="1" height="1" fill="#000"/>
<rect x="627" y="445" width="1" height="1" fill="#000"/>
<rect x="625" y="446" width="2" height="1" fill="#000"/>
<rect x="628" y="440" width="1" height="1" fill="#000"/>
<rect x="628" y="441" width="1" height="1" fill="#000"/>
<rect x="628" y="442" width="1" height="1" fill="#000"/>
<rect x="628" y="443" width="1" height="1" fill="#000"/>
<rect x="628" y="444" width="1" height="1" fill="#000"/>
<rect x="628" y="445" width="1" height="1" fill="#000"/>
<rect x="627" y="446" width="2" height="1" fill="#000"/>
<rect x="631" y="440" width="1" height="1" fill="#000"/>
<rect x="630" y="441" width="1" height="1" fill="#000"/>
<rect x="632" y="441" width="1" height="1" fill="#000"/>
<rect x="630" y="442" width="1" height="1" fill="#000"/>
<rect x="632" y="442" width="1" height="1" fill="#000"/>
<rect x="630" y="443" width="1" height="1" fill="#000"/>
<rect x="632" y="443" width="1" height="1" fill="#000"/>
<rect x="630" y="444" width="1" height="1" fill="#000"/>
<rect x="632" y="444" width="1" height="1" fill="#000"/>
<rect x="630" y="445" width="1" height="1" fill="#000"/>
<rect x="632" y="445" width="1" height="1" fill="#000"/>
<rect x="631" y="446" width="1" height="1" fill="#000"/>
<rect x="634" y="440" width="1" height="1" fill="#000"/>
<rect x="634" y="441" width="1" height="1" fill="#000"/>
<rect x="634" y="442" width="1" height="1" fill="#000"/>
<rect x="634" y="443" width="1" height="1" fill="#000"/>
<rect x="634" y="444" width="1" height="1" fill="#000"/>
<rect x="634" y="445" width="1" height="1" fill="#000"/>
<rect x="633" y="446" width="2" height="1" fill="#000"/>
<rect x="637" y="440" width="4" height="1" fill="#000"/>
<rect x="637" y="441" width="1" height="1" fill="#000"/>
<rect x="637" y="442" width="1" height="1" fill="#000"/>
<rect x="637" y="443" width="3" height="1" fill="#000"/>
<rect x="640" y="444" width="1" height="1" fill="#000"/>
<rect x="637" y="445" width="1" height="1" fill="#000"/>
<rect x="640" y="445" width="1" height="1" fill="#000"/>
<rect x="638" y="446" width="2" height="1" fill="#000"/>
<rect x="614" y="457.5" width="9" height="3" fill="#000"/>
<rect x="616" y="458" width="1" height="1" fill="#fff" />
<rect x="620" y="458" width="1" height="1" fill="#fff" />
<rect x="635" y="457.5" width="4" height="3" fill="#000"/>
<rect x="636" y="457.5" width="2" height="1" fill="#fff" />
<rect x="645" y="457.5" width="5" height="3" fill="#000"/>
<rect x="647" y="457.5" width="1" height="3" fill="#fff" />
<rect x="645" y="465" width="1" height="1" fill="#000"/>
<rect x="648" y="465" width="1" height="1" fill="#000"/>
<rect x="645" y="466" width="1" height="1" fill="#000"/>
<rect x="648" y="466" width="1" height="1" fill="#000"/>
<rect x="645" y="467" width="1" height="1" fill="#000"/>
<rect x="648" y="467" width="1" height="1" fill="#000"/>
<rect x="645" y="468" width="1" height="1" fill="#000"/>
<rect x="648" y="468" width="1" height="1" fill="#000"/>
<rect x="645" y="469" width="1" height="1" fill="#000"/>
<rect x="648" y="469" width="1" height="1" fill="#000"/>
<rect x="645" y="470" width="1" height="1" fill="#000"/>
<rect x="648" y="470" width="1" height="1" fill="#000"/>
<rect x="646" y="471" width="2" height="1" fill="#000"/>
<rect x="649" y="465" width="1" height="1" fill="#000"/>
<rect x="649" y="466" width="1" height="1" fill="#000"/>
<rect x="649" y="467" width="1" height="1" fill="#000"/>
<rect x="649" y="468" width="1" height="1" fill="#000"/>
<rect x="649" y="469" width="1" height="1" fill="#000"/>
<rect x="649" y="470" width="1" height="1" fill="#000"/>
<rect x="649" y="471" width="3" height="1" fill="#000"/>
<rect x="616" y="474" width="2" height="3" fill="#000"/>
<rect x="620" y="474" width="2" height="3" fill="#000"/>
<rect x="623" y="474" width="2" height="3" fill="#000"/>
<rect x="638" y="474" width="2" height="3" fill="#000"/>
<rect x="642" y="474" width="1" height="3" fill="#000"/>
<rect x="645" y="474" width="2" height="3" fill="#000"/>
<line x1="653" y1="446.5" x2="698" y2="446.5" stroke="#000" stroke-width="1" />
<line x1="653" y1="464.5" x2="698" y2="464.5" stroke="#000" stroke-width="1" />
<rect x="663" y="452" width="18" height="7" fill="#000"/>
<rect x="664" y="453" width="1" height="2" fill="#fff" />
<rect x="672" y="455" width="2" height="1" fill="#fff" />
<rect x="664" y="468" width="2" height="1" fill="#000"/>
<rect x="664" y="469" width="1" height="1" fill="#000"/>
<rect x="666" y="469" width="1" height="1" fill="#000"/>
<rect x="664" y="470" width="1" height="1" fill="#000"/>
<rect x="667" y="470" width="1" height="1" fill="#000"/>
<rect x="664" y="471" width="1" height="1" fill="#000"/>
<rect x="667" y="471" width="1" height="1" fill="#000"/>
<rect x="664" y="472" width="1" height="1" fill="#000"/>
<rect x="667" y="472" width="1" height="1" fill="#000"/>
<rect x="664" y="473" width="1" height="1" fill="#000"/>
<rect x="666" y="473" width="1" height="1" fill="#000"/>
<rect x="664" y="474" width="2" height="1" fill="#000"/>
<rect x="669" y="468" width="1" height="1" fill="#000"/>
<rect x="668" y="469" width="2" height="1" fill="#000"/>
<rect x="667" y="470" width="1" height="1" fill="#000"/>
<rect x="669" y="470" width="1" height="1" fill="#000"/>
<rect x="667" y="471" width="1" height="1" fill="#000"/>
<rect x="669" y="471" width="1" height="1" fill="#000"/>
<rect x="667" y="472" width="4" height="1" fill="#000"/>
<rect x="669" y="473" width="1" height="1" fill="#000"/>
<rect x="669" y="474" width="1" height="1" fill="#000"/>
<rect x="671" y="471" width="3" height="1" fill="#000"/>
<rect x="676" y="468" width="1" height="1" fill="#000"/>
<rect x="675" y="469" width="2" height="1" fill="#000"/>
<rect x="674" y="470" width="1" height="1" fill="#000"/>
<rect x="676" y="470" width="1" height="1" fill="#000"/>
<rect x="674" y="471" width="1" height="1" fill="#000"/>
<rect x="676" y="471" width="1" height="1" fill="#000"/>
<rect x="674" y="472" width="4" height="1" fill="#000"/>
<rect x="676" y="473" width="1" height="1" fill="#000"/>
<rect x="676" y="474" width="1" height="1" fill="#000"/>
</svg></body></html>
